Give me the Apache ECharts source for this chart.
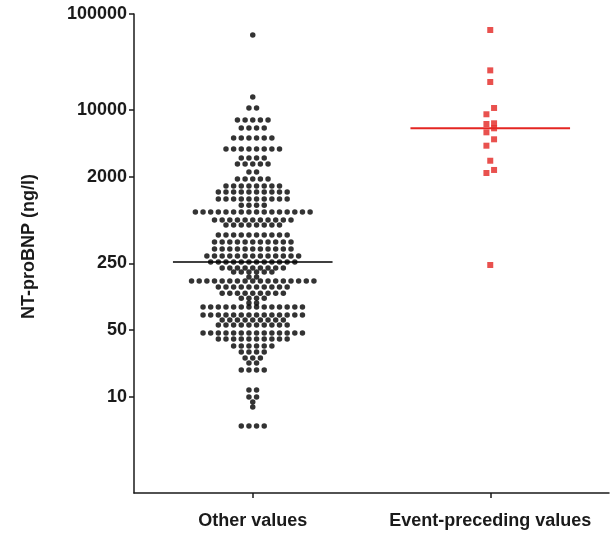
<!DOCTYPE html>
<html>
<head>
<meta charset="utf-8">
<script src="https://cdn.jsdelivr.net/npm/echarts@6/dist/echarts.min.js"></script>
<style>
html, body { margin: 0; padding: 0; background: #fff; }
#chart { width: 610px; height: 533px; }
</style>
</head>
<body>
<div id="chart"></div>
<script>
var groups = ['Other values', 'Event-preceding values'];
var yTicks = [10, 50, 250, 2000, 10000, 100000];

// other values, read row by row off the swarm: [NT-proBNP, dots in that row]
var otherRows = [
    [60400, 1], [13600, 1], [10450, 2], [7830, 5], [6460, 4], [5080, 6],
    [3900, 8], [3140, 4], [2720, 5], [2240, 2], [1900, 5], [1600, 8],
    [1390, 10], [1170, 10], [1010, 4], [857, 16], [708, 11], [627, 8],
    [493, 10], [417, 11], [352, 11], [298, 13], [258, 12], [223, 9],
    [203, 6], [180, 2], [163, 17], [141, 10], [122, 9], [108, 4],
    [96, 2], [87.5, 14], [72, 14], [64, 9], [56.8, 10], [46.8, 14],
    [40.5, 10], [34.2, 6], [29.6, 4], [25.7, 3], [22.8, 2], [19.2, 4],
    [11.9, 2], [10.05, 2], [8.9, 1], [7.9, 1], [5, 4]
];
var eventValues = [68100, 25800, 19500, 10450, 8980, 7230, 7110, 6410,
    5820, 4920, 4220, 2940, 2355, 2190, 240];

var STEP = 0.0322;      // spacing of dots across, in x units
var HALF_LINE = 0.336;  // half width of the median bars

function median(arr) {
    var s = arr.slice().sort(function (a, b) { return a - b; });
    var m = Math.floor(s.length / 2);
    return s.length % 2 ? s[m] : (s[m - 1] + s[m]) / 2;
}

// rows are centred on the group, one slot per dot
var otherData = [];
var otherAll = [];
otherRows.forEach(function (r) {
    for (var i = 0; i < r[1]; i++) {
        otherData.push([0.5 + (i - (r[1] - 1) / 2) * STEP, r[0]]);
        otherAll.push(r[0]);
    }
});

// event points: lone ones in the middle, close ones alternate right / left
var eventData = [];
var sorted = eventValues.slice().sort(function (a, b) { return b - a; });
var side = 1;
sorted.forEach(function (v, i) {
    var near = function (w) { return w !== undefined && Math.abs(Math.log10(v / w)) <= 0.095; };
    var inCluster = near(sorted[i - 1]) || near(sorted[i + 1]);
    if (!near(sorted[i - 1])) side = 1;
    var off = 0;
    if (inCluster) { off = side * STEP / 2; side = -side; }
    eventData.push([1.5 + off, v]);
});

var medOther = median(otherAll);
var medEvent = median(eventValues);

var font = { fontFamily: 'Arial, "Liberation Sans", sans-serif', fontWeight: 'bold', fontSize: 18, color: '#1a1a1a' };

var option = {
    animation: false,
    grid: { left: 134, right: 1, top: 14, bottom: 40 },
    xAxis: {
        type: 'value',
        min: 0,
        max: 2,
        splitLine: { show: false },
        axisLine: { lineStyle: { color: '#1a1a1a', width: 1.5 } },
        axisTick: { customValues: [0.5, 1.5], length: 5, lineStyle: { color: '#1a1a1a', width: 1.5 } },
        axisLabel: Object.assign({
            customValues: [0.5, 1.5],
            margin: 19,
            formatter: function (v) { return groups[Math.round(v - 0.5)]; }
        }, font)
    },
    yAxis: {
        type: 'log',
        logBase: 10,
        min: 1,
        max: 100000,
        name: 'NT-proBNP (ng/l)',
        nameLocation: 'middle',
        nameGap: 96,
        nameTextStyle: Object.assign({ padding: [0, 0, 0, 14] }, font),
        splitLine: { show: false },
        minorTick: { show: false },
        axisLine: { show: true, lineStyle: { color: '#1a1a1a', width: 1.5 } },
        axisTick: { customValues: yTicks, length: 5, lineStyle: { color: '#1a1a1a', width: 1.5 } },
        axisLabel: Object.assign({
            customValues: yTicks,
            margin: 7,
            formatter: function (v) { return String(v); }
        }, font)
    },
    series: [
        {
            name: groups[0],
            type: 'scatter',
            symbol: 'circle',
            symbolSize: 5.5,
            itemStyle: { color: '#000' },
            data: otherData
        },
        {
            name: groups[1],
            type: 'scatter',
            symbol: 'rect',
            symbolSize: 6,
            itemStyle: { color: '#e42622' },
            data: eventData
        },
        {
            type: 'line',
            symbol: 'none',
            lineStyle: { color: '#000', width: 1.5 },
            data: [[0.5 - HALF_LINE, medOther], [0.5 + HALF_LINE, medOther]]
        },
        {
            type: 'line',
            symbol: 'none',
            lineStyle: { color: '#e42622', width: 2 },
            data: [[1.5 - HALF_LINE, medEvent], [1.5 + HALF_LINE, medEvent]]
        }
    ]
};

var chart = echarts.init(document.getElementById('chart'));
chart.setOption(option);
</script>
</body>
</html>
